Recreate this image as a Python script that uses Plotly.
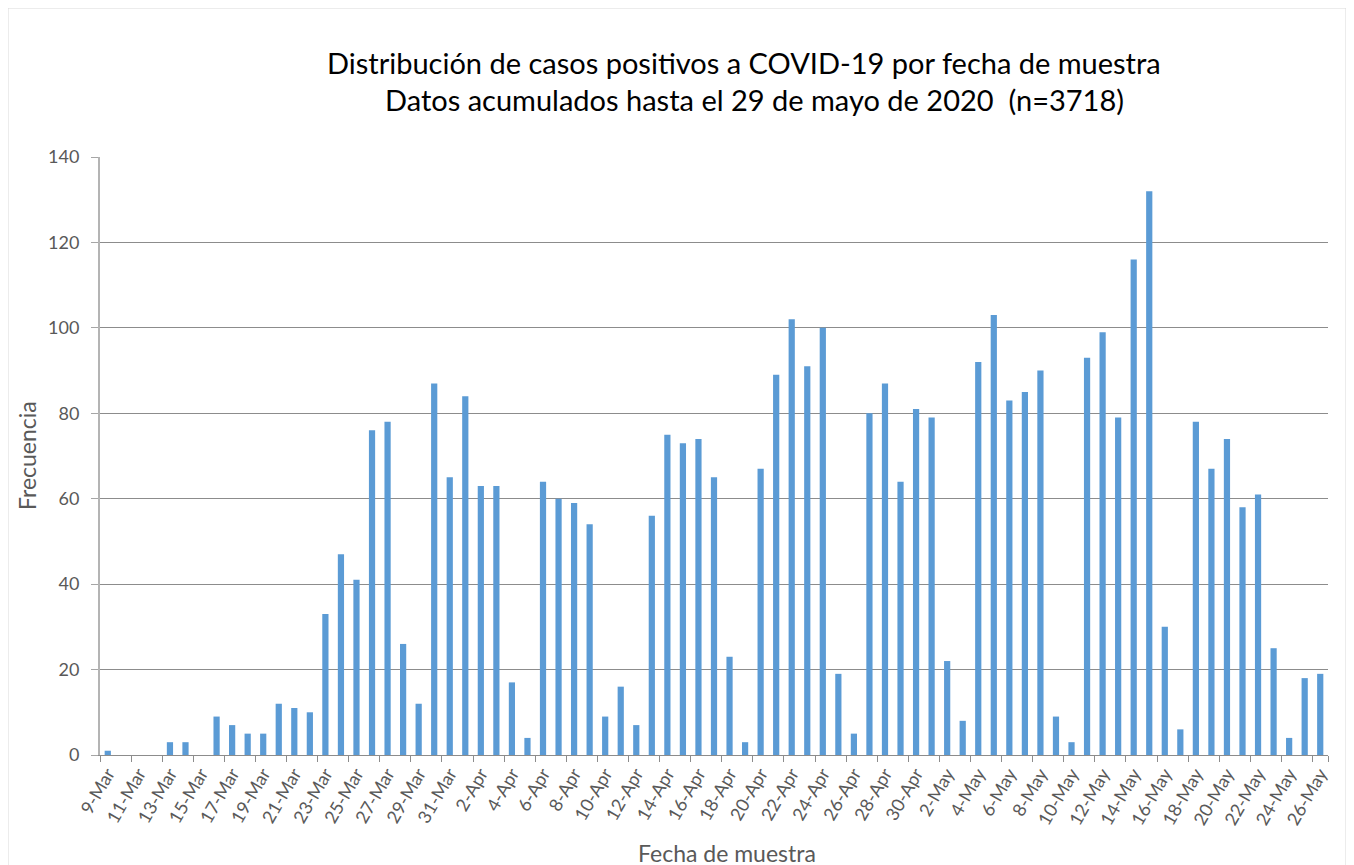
import plotly.graph_objects as go

march = [f"{d}-Mar" for d in range(9, 32)]
april = [f"{d}-Apr" for d in range(1, 31)]
may = [f"{d}-May" for d in range(1, 27)]
categories = march + april + may

march_values = [1, 0, 0, 0, 3, 3, 0, 9, 7, 5, 5, 12, 11, 10, 33, 47, 41, 76, 78, 26, 12, 87, 65]
april_values = [84, 63, 63, 17, 4, 64, 60, 59, 54, 9, 16, 7, 56, 75, 73, 74, 65, 23, 3, 67,
                89, 102, 91, 100, 19, 5, 80, 87, 64, 81]
may_values = [79, 22, 8, 92, 103, 83, 85, 90, 9, 3, 93, 99, 79, 116, 132, 30, 6, 78, 67, 74,
              58, 61, 25, 4, 18, 19]
values = march_values + april_values + may_values

tick_labels = categories[::2]
y_ticks = [0, 20, 40, 60, 80, 100, 120, 140]

# page offset (body margin) compensation
OFF = 8
W, H = 1354, 865
ML, MR, MT, MB = 100 - OFF, 34, 157 - OFF, 118

fig = go.Figure(go.Bar(
    x=categories, y=values,
    marker=dict(color="#5B9BD5", line=dict(width=0)),
))

font = "Lato, 'Open Sans', sans-serif"
pw = W - ML - MR
ph = H - MT - MB

def px_x(p):
    return (p - OFF - ML) / pw

def px_y(p):
    return (H - MB - (p - OFF)) / ph

fig.update_layout(
    width=W, height=H,
    margin=dict(l=ML, r=MR, t=MT, b=MB),
    paper_bgcolor="white", plot_bgcolor="white",
    bargap=0.6,
    showlegend=False,
    font=dict(family=font, color="#595959"),
    xaxis=dict(
        type="category",
        tickmode="array", tickvals=tick_labels, ticktext=tick_labels,
        tickson="boundaries",
        ticks="outside", ticklen=6, tickcolor="#8c8c8c",
        tickangle=-60,
        tickfont=dict(size=18, color="#595959"),
        showline=True, linecolor="#8c8c8c", linewidth=1,
        showgrid=False,
        range=[-0.5, len(categories) - 0.5],
    ),
    yaxis=dict(
        range=[0, 140],
        tickvals=y_ticks,
        ticks="outside", ticklen=7, tickcolor="#a6a6a6",
        tickfont=dict(size=18, color="#595959"),
        ticklabelstandoff=8,
        showline=True, linecolor="#b4b4b4", linewidth=2,
        showgrid=True, gridcolor="#8c8c8c", gridwidth=1,
        zeroline=False,
    ),
    shapes=[dict(
        type="rect", xref="paper", yref="paper",
        x0=px_x(8), x1=px_x(1346), y0=px_y(900), y1=px_y(8),
        line=dict(color="#d9d9d9", width=1), fillcolor="rgba(0,0,0,0)", layer="below",
    )],
    annotations=[
        dict(text="Distribución de casos positivos a COVID-19 por fecha de muestra",
             xref="paper", yref="paper", x=px_x(744), y=px_y(62),
             showarrow=False, font=dict(size=29, color="#000000", family=font),
             xanchor="center", yanchor="middle"),
        dict(text="Datos acumulados hasta el 29 de mayo de 2020  (n=3718)",
             xref="paper", yref="paper", x=px_x(754), y=px_y(100),
             showarrow=False, font=dict(size=29, color="#000000", family=font),
             xanchor="center", yanchor="middle"),
        dict(text="Frecuencia",
             xref="paper", yref="paper", x=px_x(27), y=px_y(456),
             showarrow=False, textangle=-90, font=dict(size=23, color="#595959", family=font),
             xanchor="center", yanchor="middle"),
        dict(text="Fecha de muestra",
             xref="paper", yref="paper", x=px_x(727), y=px_y(853),
             showarrow=False, font=dict(size=23, color="#595959", family=font),
             xanchor="center", yanchor="middle"),
    ],
)

fig.write_html("out.html")
